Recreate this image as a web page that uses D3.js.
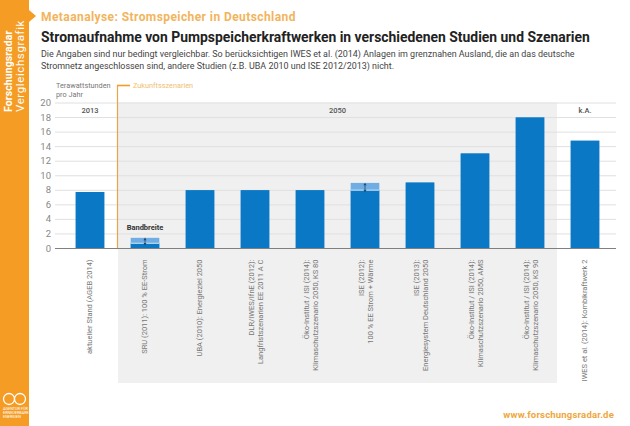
<!DOCTYPE html>
<html>
  <head>
    <meta charset="utf-8">
    <title>Stromaufnahme von Pumpspeicherkraftwerken</title>
    <style>
html, body { margin: 0; padding: 0; background: #fff; }
svg { display: block; font-family: Roboto, "Open Sans", sans-serif; }
.domain { display: none; }
    </style>
  </head>
  <body>
    <div id="chart"></div>
    <script src="https://cdn.jsdelivr.net/npm/d3@7"></script>
    <script>

    var studies = ['AGEB', 'SRU', 'UBA', 'DLR', 'OEKO80', 'ISE12', 'ISE13', 'AMS', 'KS90', 'IWES'];
    var lowValues = [7.7, 0.65, 7.95, 7.95, 7.95, 7.95, 9, 13, 17.95, 14.75];
    var highValues = [7.7, 1.4, 7.95, 7.95, 7.95, 8.95, 9, 13, 17.95, 14.75];
    var labelLines = [
      ['aktueller Stand (AGEB 2014)'],
      ['SRU (2011): 100 % EE-Strom'],
      ['UBA (2010): Energieziel 2050'],
      ['DLR/IWES/IfnE (2012):', 'Langfristszenarien EE 2011 A C'],
      ['Öko-Institut / ISI (2014):', 'Klimaschutzszenario 2050, KS 80'],
      ['ISE (2012):', '100 % EE Strom + Wärme'],
      ['ISE (2013):', 'Energiesystem Deutschland 2050'],
      ['Öko-Institut / ISI (2014):', 'Klimaschutzszenario 2050, AMS'],
      ['Öko-Institut / ISI (2014):', 'Klimaschutzszenario 2050, KS 90'],
      ['IWES et al. (2014): Kombikraftwerk 2']
    ];
    var yTicks = [0, 2, 4, 6, 8, 10, 12, 14, 16, 18, 20];
    var introLines = [
      'Die Angaben sind nur bedingt vergleichbar. So berücksichtigen IWES et al. (2014) Anlagen im grenznahen Ausland, die an das deutsche',
      'Stromnetz angeschlossen sind, andere Studien (z.B. UBA 2010 und ISE 2012/2013) nicht.'
    ];
    var periods = [
      {label: '2013', from: 'AGEB', to: 'AGEB'},
      {label: '2050', from: 'SRU', to: 'KS90'},
      {label: 'k.A.', from: 'IWES', to: 'IWES'}
    ];

    var orange = '#f59c25',
        blue = '#0a78c4',
        lightBlue = '#6fade2',
        grey = '#777';

    var svg = d3.select('#chart').append('svg')
        .attr('width', 630)
        .attr('height', 426);

    var x = d3.scaleBand()
        .domain(studies)
        .range([62.5, 612.5])
        .paddingInner(0.48)
        .paddingOuter(0.24);

    var y = d3.scaleLinear()
        .domain([0, 20])
        .range([248, 102.5]);

    // sidebar
    svg.append('rect')
        .attr('width', 29)
        .attr('height', 426)
        .style('fill', orange);
    svg.append('path')
        .attr('d', 'M29,10L36,16L29,22Z')
        .style('fill', orange);
    svg.append('text')
        .attr('transform', 'translate(12,112) rotate(-90)')
        .style('font-size', '10.5px')
        .style('font-weight', 700)
        .style('letter-spacing', '0.1px')
        .style('fill', '#fff')
        .text('Forschungsradar');
    svg.append('text')
        .attr('transform', 'translate(24,112) rotate(-90)')
        .style('font-size', '11.5px')
        .style('letter-spacing', '0.6px')
        .style('fill', '#fff')
        .text('Vergleichsgrafik');

    // logo
    var logo = svg.append('g').style('fill', 'none').style('stroke', '#fff').style('stroke-width', 1.3);
    logo.append('circle').attr('cx', 9).attr('cy', 399).attr('r', 5.5);
    logo.append('circle').attr('cx', 20).attr('cy', 399).attr('r', 5.5);
    svg.selectAll('.logotext')
        .data(['AGENTUR FÜR', 'ERNEUERBARE', 'ENERGIEN'])
        .enter().append('text')
        .attr('class', 'logotext')
        .attr('x', 3)
        .attr('y', function(d, i) { return 410 + i * 4; })
        .style('font-size', '3.8px')
        .style('fill', '#fff')
        .text(function(d) { return d; });

    // heading
    svg.append('text')
        .attr('x', 41)
        .attr('y', 21)
        .style('font-size', '12px')
        .style('font-weight', 700)
        .style('letter-spacing', '0.42px')
        .style('fill', '#f2b45c')
        .text('Metaanalyse: Stromspeicher in Deutschland');
    svg.append('text')
        .attr('x', 41)
        .attr('y', 42)
        .style('font-size', '13.9px')
        .style('font-weight', 700)
        .style('fill', '#222')
        .text('Stromaufnahme von Pumpspeicherkraftwerken in verschiedenen Studien und Szenarien');
    svg.selectAll('.intro')
        .data(introLines)
        .enter().append('text')
        .attr('class', 'intro')
        .attr('x', 41)
        .attr('y', function(d, i) { return 57 + i * 12; })
        .style('font-size', '8.95px')
        .style('fill', '#444')
        .text(function(d) { return d; });

    // 2050 panel
    svg.append('rect')
        .attr('x', 118)
        .attr('y', y(20))
        .attr('width', 439)
        .attr('height', 383 - y(20))
        .style('fill', '#f0f0f0');

    // grid + tick labels
    var yAxis = svg.append('g')
        .attr('transform', 'translate(55,0)')
        .call(d3.axisLeft(y).tickValues(yTicks).tickSize(-561).tickPadding(4));
    yAxis.selectAll('.tick line')
        .style('stroke', function(d) { return d === 0 ? '#808080' : '#e0e0e0'; });
    yAxis.selectAll('.tick text')
        .style('font-family', 'Roboto, sans-serif')
        .style('font-size', '9.5px')
        .style('fill', '#888');

    // bars
    svg.selectAll('.bar-high')
        .data(studies)
        .enter().append('rect')
        .attr('class', 'bar-high')
        .attr('x', function(d) { return x(d); })
        .attr('width', x.bandwidth())
        .attr('y', function(d, i) { return y(highValues[i]); })
        .attr('height', function(d, i) { return y(0) - y(highValues[i]); })
        .style('fill', lightBlue);
    svg.selectAll('.bar-low')
        .data(studies)
        .enter().append('rect')
        .attr('class', 'bar-low')
        .attr('x', function(d) { return x(d); })
        .attr('width', x.bandwidth())
        .attr('y', function(d, i) { return y(lowValues[i]); })
        .attr('height', function(d, i) { return y(0) - y(lowValues[i]); })
        .style('fill', blue);

    // range marks: white gap plus small double arrow
    var ranged = studies.filter(function(d, i) { return highValues[i] > lowValues[i]; });
    ranged.forEach(function(d) {
      var i = studies.indexOf(d),
          cx = x(d) + x.bandwidth() / 2,
          top = y(highValues[i]),
          bottom = y(lowValues[i]);
      svg.append('line')
          .attr('x1', x(d)).attr('x2', x(d) + x.bandwidth())
          .attr('y1', bottom).attr('y2', bottom)
          .style('stroke', '#d6e8f6')
          .style('stroke-width', 1);
      svg.append('line')
          .attr('x1', cx).attr('x2', cx)
          .attr('y1', top + 1.5).attr('y2', bottom + 0.5)
          .style('stroke', '#1c4a70')
          .style('stroke-width', 0.8);
      svg.append('path')
          .attr('d', d3.symbol().type(d3.symbolTriangle).size(4))
          .attr('transform', 'translate(' + cx + ',' + (top + 1.5) + ')')
          .style('fill', '#1c4a70');
      svg.append('path')
          .attr('d', d3.symbol().type(d3.symbolTriangle).size(4))
          .attr('transform', 'translate(' + cx + ',' + (bottom + 0.5) + ') rotate(180)')
          .style('fill', '#1c4a70');
    });

    svg.append('text')
        .attr('x', x('SRU') + x.bandwidth() / 2)
        .attr('y', 230)
        .attr('text-anchor', 'middle')
        .style('font-size', '7.5px')
        .style('font-weight', 700)
        .style('fill', '#333')
        .text('Bandbreite');

    // period labels
    svg.selectAll('.period')
        .data(periods)
        .enter().append('text')
        .attr('class', 'period')
        .attr('x', function(d) { return (x(d.from) + x(d.to) + x.bandwidth()) / 2; })
        .attr('y', 113)
        .attr('text-anchor', 'middle')
        .style('font-size', '7.5px')
        .style('font-weight', 500)
        .style('fill', '#555')
        .text(function(d) { return d.label; });

    // future marker
    svg.append('path')
        .attr('d', 'M117.5,248V85.5')
        .style('fill', 'none')
        .style('stroke', '#e9a54e')
        .style('stroke-width', 1.2);
    svg.append('line')
        .attr('x1', 117).attr('x2', 130)
        .attr('y1', 85.5).attr('y2', 85.5)
        .style('stroke', orange)
        .style('stroke-width', 1.6);
    svg.append('text')
        .attr('x', 133)
        .attr('y', 88)
        .style('font-size', '7.3px')
        .style('fill', '#f0c070')
        .text('Zukunftsszenarien');

    svg.selectAll('.unit')
        .data(['Terawattstunden', 'pro Jahr'])
        .enter().append('text')
        .attr('class', 'unit')
        .attr('x', 56)
        .attr('y', function(d, i) { return 88 + i * 9; })
        .style('font-size', '7.3px')
        .style('fill', grey)
        .text(function(d) { return d; });

    // rotated study labels
    var labels = svg.selectAll('.study')
        .data(studies)
        .enter().append('g')
        .attr('class', 'study')
        .attr('transform', function(d) {
          return 'translate(' + (x(d) + x.bandwidth() / 2) + ',259.5) rotate(-90)';
        });
    labels.selectAll('text')
        .data(function(d, i) { return labelLines[i]; })
        .enter().append('text')
        .attr('text-anchor', 'end')
        .attr('y', function(d, i, nodes) {
          return nodes.length === 1 ? 2 : (i === 0 ? -1.5 : 8);
        })
        .style('font-size', '7.5px')
        .style('fill', grey)
        .text(function(d) { return d; });

    svg.append('text')
        .attr('x', 614)
        .attr('y', 418)
        .attr('text-anchor', 'end')
        .style('font-size', '9.5px')
        .style('font-weight', 700)
        .style('letter-spacing', '0.2px')
        .style('fill', '#f0a63c')
        .text('www.forschungsradar.de');

    </script>
  </body>
</html>
